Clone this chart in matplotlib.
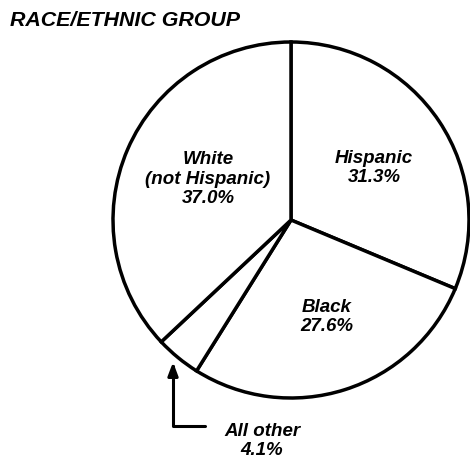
import matplotlib

matplotlib.use("Agg")
import matplotlib.pyplot as plt

# shares of the race/ethnic groups, clockwise from 12 o'clock
groups = ["Hispanic", "Black", "All other", "White\n(not Hispanic)"]
shares = [31.3, 27.6, 4.1, 37.0]
title = "RACE/ETHNIC GROUP"

W, H = 470, 461
font = dict(family="Liberation Sans", fontweight="bold", fontstyle="italic", color="black")

fig = plt.figure(figsize=(W / 100, H / 100), dpi=100)
ax = fig.add_axes([0, 0, 1, 1])

cx, cy, r = 291, H - 220, 178
ax.pie(
    shares,
    startangle=90,
    counterclock=False,
    center=(cx, cy),
    radius=r,
    frame=True,
    wedgeprops=dict(facecolor="white", edgecolor="black", linewidth=2.5),
)
ax.set_xlim(0, W)
ax.set_ylim(0, H)
ax.set_aspect("equal")
ax.axis("off")

def label(i):
    return f"{groups[i]}\n{shares[i]:.1f}%"

txt = dict(ha="center", va="center", fontsize=13.5, linespacing=1.2, **font)
ax.text(374, H - 168, label(0), **txt)
ax.text(327, H - 317, label(1), **txt)
ax.text(208, H - 179, label(3), **txt)
ax.text(262, H - 441, label(2), **txt)

ax.annotate(
    "",
    xy=(173, H - 362),
    xytext=(205, H - 426),
    arrowprops=dict(
        arrowstyle="-|>,head_length=0.8,head_width=0.3",
        connectionstyle="angle,angleA=0,angleB=90,rad=0",
        lw=2.2,
        color="black",
        shrinkA=0,
        shrinkB=0,
    ),
)

fig.text(10 / W, 1 - 20 / H, title, ha="left", va="center", fontsize=15.4, **font)

fig.savefig("out.png", dpi=100, facecolor="white")
